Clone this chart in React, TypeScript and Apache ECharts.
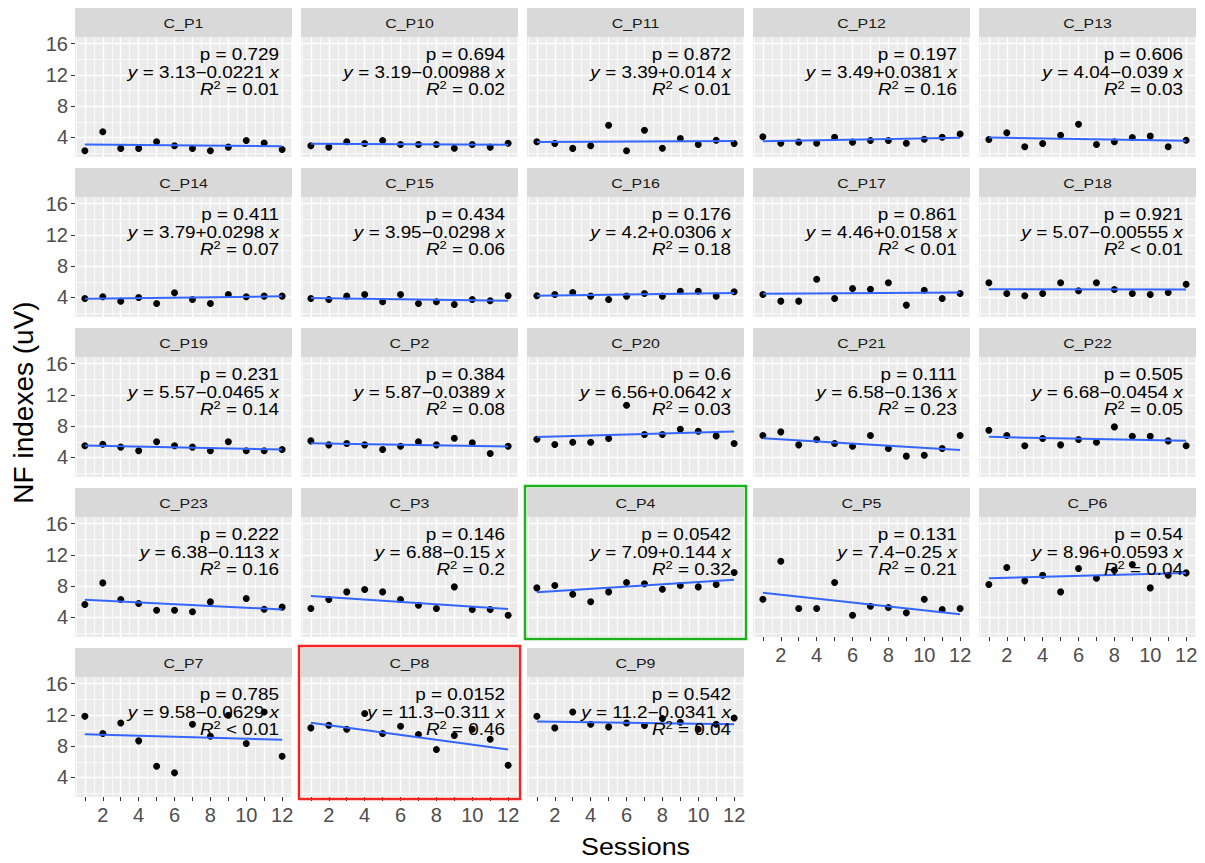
import React, { useEffect, useRef } from "react";
import * as echarts from "echarts";

// ---------- data ----------
const panelNames = [
  "C_P1", "C_P10", "C_P11", "C_P12", "C_P13",
  "C_P14", "C_P15", "C_P16", "C_P17", "C_P18",
  "C_P19", "C_P2", "C_P20", "C_P21", "C_P22",
  "C_P23", "C_P3", "C_P4", "C_P5", "C_P6",
  "C_P7", "C_P8", "C_P9",
];
const sessions = [1, 2, 3, 4, 5, 6, 7, 8, 9, 10, 11, 12];

const C_P1 = [2.29, 4.72, 2.6, 2.6, 3.44, 2.93, 2.6, 2.29, 2.76, 3.6, 3.3, 2.46];
const C_P10 = [2.93, 2.76, 3.44, 3.23, 3.6, 3.1, 3.1, 3.1, 2.63, 3.1, 2.76, 3.27];
const C_P11 = [3.44, 3.23, 2.6, 2.93, 5.57, 2.29, 4.93, 2.63, 3.87, 3.1, 3.65, 3.23];
const C_P12 = [4.1, 3.25, 3.4, 3.25, 4.02, 3.4, 3.6, 3.6, 3.25, 3.76, 4.02, 4.45];
const C_P13 = [3.74, 4.59, 2.8, 3.23, 4.29, 5.7, 3.1, 3.44, 4.0, 4.17, 2.8, 3.65];
const C_P14 = [3.87, 4.08, 3.53, 4.0, 3.23, 4.59, 3.74, 3.23, 4.38, 4.08, 4.17, 4.17];
const C_P15 = [3.87, 3.74, 4.17, 4.38, 3.44, 4.38, 3.23, 3.44, 3.1, 3.74, 3.57, 4.21];
const C_P16 = [4.21, 4.38, 4.64, 4.17, 3.74, 4.17, 4.51, 4.17, 4.8, 4.8, 4.17, 4.72];
const C_P17 = [4.38, 3.53, 3.53, 6.34, 3.87, 5.15, 5.06, 5.87, 3.02, 4.93, 3.87, 4.51];
const C_P18 = [5.87, 4.51, 4.21, 4.51, 5.87, 4.85, 5.87, 5.02, 4.51, 4.38, 4.64, 5.7];
const C_P19 = [5.49, 5.7, 5.32, 4.85, 6.0, 5.49, 5.32, 4.85, 6.0, 4.85, 4.85, 5.02];
const C_P2 = [6.12, 5.61, 5.78, 5.61, 5.02, 5.44, 6.0, 5.61, 6.46, 5.87, 4.51, 5.44];
const C_P20 = [6.34, 5.66, 5.95, 5.95, 6.42, 10.68, 6.94, 6.94, 7.61, 7.36, 6.76, 5.78];
const C_P21 = [6.81, 7.27, 5.61, 6.3, 5.78, 5.44, 6.81, 5.15, 4.17, 4.29, 5.15, 6.81];
const C_P22 = [7.49, 6.81, 5.49, 6.42, 5.61, 6.3, 5.95, 7.91, 6.72, 6.72, 6.12, 5.49];
const C_P23 = [5.66, 8.42, 6.3, 5.79, 4.93, 4.93, 4.72, 5.99, null, 6.43, 5.06, 5.32];
const C_P3 = [5.15, 6.3, 7.27, 7.57, 7.27, 6.3, 5.57, 5.15, 7.91, 5.02, 5.02, 4.29];
const C_P4 = [7.78, 8.09, 6.98, 6.0, 7.27, 8.47, 8.3, 7.61, 8.09, 7.91, 8.21, 9.75];
const C_P5 = [6.34, 11.19, 5.15, 5.15, 8.47, 4.29, 5.44, 5.28, 4.59, 6.34, 5.02, 5.15];
const C_P6 = [8.21, 10.39, 8.68, 9.4, 7.27, 10.26, 9.02, 10.04, 10.77, 7.78, 9.4, 9.7];
const C_P7 = [11.83, 9.62, 10.97, 8.68, 5.44, 4.59, 10.81, 9.27, 11.96, 8.34, 12.38, 6.72];
const C_P8 = [10.34, 10.68, 10.17, 12.17, 9.62, 10.55, 9.49, 7.57, 9.36, 10.17, 8.89, 5.57];
const C_P9 = [11.83, 10.34, 12.38, 10.81, 10.47, 10.97, 10.64, 11.53, 11.06, 10.17, 10.81, 11.61];

const panelValues = [
  C_P1, C_P10, C_P11, C_P12, C_P13, C_P14, C_P15, C_P16, C_P17, C_P18,
  C_P19, C_P2, C_P20, C_P21, C_P22, C_P23, C_P3, C_P4, C_P5, C_P6,
  C_P7, C_P8, C_P9,
];

const intercepts = [
  3.13, 3.19, 3.39, 3.49, 4.04, 3.79, 3.95, 4.2, 4.46, 5.07,
  5.57, 5.87, 6.56, 6.58, 6.68, 6.38, 6.88, 7.09, 7.4, 8.96,
  9.58, 11.3, 11.2,
];
const slopes = [
  -0.0221, -0.00988, 0.014, 0.0381, -0.039, 0.0298, -0.0298, 0.0306, 0.0158, -0.00555,
  -0.0465, -0.0389, 0.0642, -0.136, -0.0454, -0.113, -0.15, 0.144, -0.25, 0.0593,
  -0.0629, -0.311, -0.0341,
];
const pValues = [
  "0.729", "0.694", "0.872", "0.197", "0.606", "0.411", "0.434", "0.176", "0.861", "0.921",
  "0.231", "0.384", "0.6", "0.111", "0.505", "0.222", "0.146", "0.0542", "0.131", "0.54",
  "0.785", "0.0152", "0.542",
];
const r2Labels = [
  "= 0.01", "= 0.02", "< 0.01", "= 0.16", "= 0.03", "= 0.07", "= 0.06", "= 0.18", "< 0.01", "< 0.01",
  "= 0.14", "= 0.08", "= 0.03", "= 0.23", "= 0.05", "= 0.16", "= 0.2", "= 0.32", "= 0.21", "= 0.04",
  "< 0.01", "= 0.46", "= 0.04",
];

const xTickValues = [1, 2, 3, 4, 5, 6, 7, 8, 9, 10, 11, 12];
const xLabelValues = [2, 4, 6, 8, 10, 12];
const xMinorValues = [0.5, 1.5, 2.5, 3.5, 4.5, 5.5, 6.5, 7.5, 8.5, 9.5, 10.5, 11.5, 12.5];
const yBreaks = [4, 8, 12, 16];
const yMinorValues = [2, 6, 10, 14];

const highlightGreen = "C_P4";
const highlightRed = "C_P8";

// ---------- layout ----------
const W = 1205;
const H = 863;
const NCOL = 5;
const LEFT0 = 75;
const COL_STEP = 226;
const PW = 217;
const STRIP_TOP0 = 8;
const ROW_STEP = 160;
const STRIP_H = 29;
const PH = 120;
const X_MIN = 0.45;
const X_MAX = 12.55;
const Y_MIN = 1.5;
const Y_MAX = 16.85;
const FONT = "Liberation Sans, Arial, Helvetica, sans-serif";
const STRETCH = 1.18;

function buildOption() {
  const grid: any[] = [];
  const xAxis: any[] = [];
  const yAxis: any[] = [];
  const series: any[] = [];
  const graphic: any[] = [];
  const n = panelNames.length;

  panelNames.forEach((name, i) => {
    const r = Math.floor(i / NCOL);
    const c = i % NCOL;
    const left = LEFT0 + c * COL_STEP;
    const stripTop = STRIP_TOP0 + r * ROW_STEP;
    const top = stripTop + STRIP_H;
    const isLeft = c === 0;
    const isBottom = i + NCOL >= n;

    grid.push({
      left, top, width: PW, height: PH,
      show: true, backgroundColor: "#EBEBEB", borderWidth: 0,
      outerBoundsMode: "none", containLabel: false,
    });

    xAxis.push({
      type: "value", gridIndex: i, min: X_MIN, max: X_MAX, position: "bottom",
      axisLine: { show: false },
      axisTick: { show: isBottom, customValues: xTickValues, length: 4, lineStyle: { color: "#333333", width: 1 } },
      axisLabel: { show: isBottom, customValues: xLabelValues, fontSize: 20, color: "#4D4D4D", fontFamily: FONT, margin: 8 },
      splitLine: { show: true, lineStyle: { color: "#FFFFFF", width: 1.4 } },
      minorSplitLine: { show: false },
    });
    xAxis.push({
      type: "value", gridIndex: i, min: X_MIN, max: X_MAX, position: "top",
      axisLine: { show: false },
      axisTick: { show: false, customValues: xMinorValues },
      axisLabel: { show: false, customValues: xMinorValues },
      splitLine: { show: true, lineStyle: { color: "#FFFFFF", width: 0.7 } },
    });
    yAxis.push({
      type: "value", gridIndex: i, min: Y_MIN, max: Y_MAX, position: "left",
      axisLine: { show: false },
      axisTick: { show: isLeft, customValues: yBreaks, length: 4, lineStyle: { color: "#333333", width: 1 } },
      axisLabel: { show: isLeft, customValues: yBreaks, fontSize: 20, color: "#4D4D4D", fontFamily: FONT, margin: 7 },
      splitLine: { show: true, lineStyle: { color: "#FFFFFF", width: 1.4 } },
    });
    yAxis.push({
      type: "value", gridIndex: i, min: Y_MIN, max: Y_MAX, position: "right",
      axisLine: { show: false },
      axisTick: { show: false, customValues: yMinorValues },
      axisLabel: { show: false, customValues: yMinorValues },
      splitLine: { show: true, lineStyle: { color: "#FFFFFF", width: 0.7 } },
    });

    const vals = panelValues[i];
    const pts: number[][] = [];
    vals.forEach((v, k) => {
      if (v !== null && v !== undefined) pts.push([sessions[k], v as number]);
    });
    series.push({
      type: "scatter", name: name, xAxisIndex: 2 * i, yAxisIndex: 2 * i,
      data: pts, symbol: "circle", symbolSize: 7,
      itemStyle: { color: "#000000", opacity: 1 }, z: 3, silent: true,
    });
    const a = intercepts[i];
    const b = slopes[i];
    const x0 = sessions[0];
    const x1 = sessions[sessions.length - 1];
    series.push({
      type: "line", name: name + " fit", xAxisIndex: 2 * i, yAxisIndex: 2 * i,
      data: [[x0, a + b * x0], [x1, a + b * x1]],
      symbol: "none", lineStyle: { color: "#3366FF", width: 2 }, z: 4, silent: true,
    });

    graphic.push({
      type: "rect", z: 1,
      shape: { x: left, y: stripTop, width: PW, height: STRIP_H },
      style: { fill: "#D9D9D9" }, silent: true,
    });
    graphic.push({
      type: "text", z: 2, x: left + PW / 2, y: stripTop + STRIP_H / 2 + 1,
      scaleX: STRETCH,
      style: { text: name, fontSize: 13.5, fontFamily: FONT, fill: "#1A1A1A", align: "center", verticalAlign: "middle" },
      silent: true,
    });

    const tx = left + PW - 13;
    const sign = b < 0 ? "−" : "+";
    const eq = "{i|y} = " + String(a) + sign + String(Math.abs(b)) + " {i|x}";
    const base = { fontSize: 16, fontFamily: FONT, fill: "#000000" };
    graphic.push({
      type: "text", z: 100, x: tx, y: top + 18, scaleX: STRETCH,
      style: { ...base, text: "p = " + pValues[i], align: "right", verticalAlign: "middle" },
      silent: true,
    });
    graphic.push({
      type: "text", z: 100, x: tx, y: top + 36, scaleX: STRETCH,
      style: {
        ...base, text: eq, align: "right", verticalAlign: "middle",
        rich: { i: { ...base, fontStyle: "italic" } },
      },
      silent: true,
    });
    graphic.push({
      type: "text", z: 100, x: tx, y: top + 53, scaleX: STRETCH,
      style: {
        ...base, text: "{i|R}{s|2} " + r2Labels[i], align: "right", verticalAlign: "middle",
        rich: {
          i: { ...base, fontStyle: "italic" },
          s: { fontSize: 11, fontFamily: FONT, fill: "#000000", padding: [0, 0, 10, 0] },
        },
      },
      silent: true,
    });

    if (name === highlightGreen || name === highlightRed) {
      graphic.push({
        type: "rect", z: 120,
        shape: { x: left - 2, y: stripTop - 2, width: PW + 4, height: STRIP_H + PH + 4 },
        style: { fill: "none", stroke: name === highlightGreen ? "#1FB01F" : "#F22424", lineWidth: 2.5 },
        silent: true,
      });
    }
  });

  const panelsLeft = LEFT0;
  const panelsRight = LEFT0 + (NCOL - 1) * COL_STEP + PW;
  const nRows = Math.ceil(panelNames.length / NCOL);
  const panelsTop = STRIP_TOP0;
  const panelsBottom = STRIP_TOP0 + (nRows - 1) * ROW_STEP + STRIP_H + PH;
  graphic.push({
    type: "text", z: 100, x: (panelsLeft + panelsRight) / 2, y: 847, scaleX: 1.12,
    style: { text: "Sessions", fontSize: 24, fontFamily: FONT, fill: "#000000", align: "center", verticalAlign: "middle" },
    silent: true,
  });
  graphic.push({
    type: "text", z: 100, x: 23, y: (panelsTop + panelsBottom) / 2, rotation: Math.PI / 2,
    style: { text: "NF indexes (uV)", fontSize: 28, fontFamily: FONT, fill: "#000000", align: "center", verticalAlign: "middle" },
    silent: true,
  });

  return {
    animation: false,
    backgroundColor: "#FFFFFF",
    grid, xAxis, yAxis, series, graphic,
  };
}

export default function App() {
  const ref = useRef<HTMLDivElement>(null);
  useEffect(() => {
    document.body.style.margin = "0";
    if (!ref.current) return;
    const chart = echarts.init(ref.current, null, { renderer: "svg", width: W, height: H });
    chart.setOption(buildOption() as any);
    return () => {
      chart.dispose();
    };
  }, []);
  return <div ref={ref} style={{ width: W, height: H }} />;
}
